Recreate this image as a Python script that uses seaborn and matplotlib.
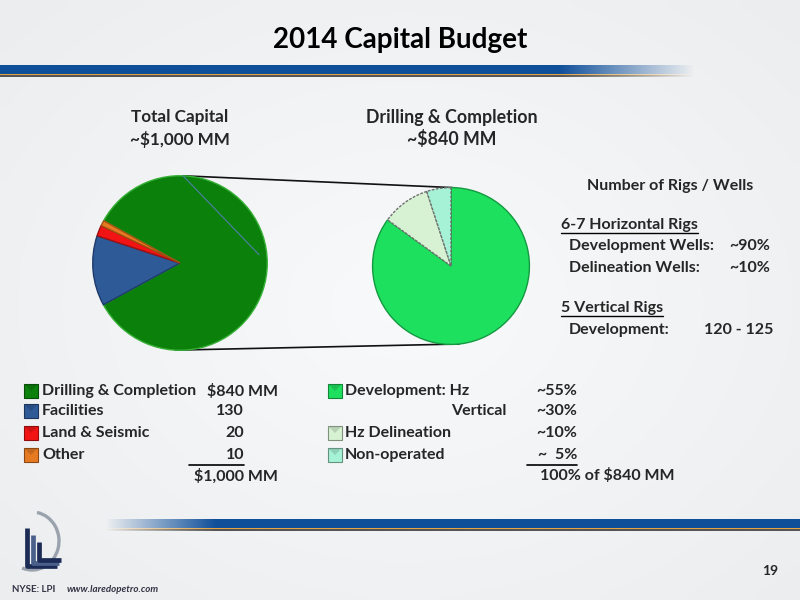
import numpy as np
import matplotlib
matplotlib.use("Agg")
import matplotlib.pyplot as plt
import seaborn as sns
from matplotlib.patches import Rectangle, Polygon, Arc, ConnectionPatch

# ---------------- data ----------------
title = "2014 Capital Budget"
left_title = ["Total Capital", "~$1,000 MM"]
right_title = ["Drilling & Completion", "~$840 MM"]

total_labels = ["Drilling & Completion", "Facilities", "Land & Seismic", "Other"]
total_values = [840, 130, 20, 10]
total_colors = ["#0b800b", "#2e5a98", "#f21414", "#e67a22"]

dc_labels = ["Development", "Hz Delineation", "Non-operated"]
dc_values = [85, 10, 5]
dc_colors = ["#1ee05f", "#d6f2d2", "#a6f2d6"]

dc_legend_labels = ["Development: Hz", "Vertical", "Hz Delineation", "Non-operated"]
dc_legend_values = [55, 30, 10, 5]
dc_legend_colors = ["#1ee05f", None, "#d6f2d2", "#a6f2d6"]

rig_heading = "Number of Rigs / Wells"
hz_heading = "6-7 Horizontal Rigs"
hz_rows = ["Development Wells:", "Delineation Wells:"]
hz_values = ["~90%", "~10%"]
vert_heading = "5 Vertical Rigs"
vert_rows = ["Development:"]
vert_values = ["120 - 125"]

page_number = "19"
footer_ticker = "NYSE: LPI"
footer_url = "www.laredopetro.com"

# ---------------- style ----------------
sns.set_theme(style="white")
plt.rcParams["font.family"] = ["Lato", "DejaVu Sans"]
plt.rcParams["font.weight"] = "bold"

fig = plt.figure(figsize=(8, 6), dpi=100)

# background canvas in pixel coordinates
bg = fig.add_axes([0, 0, 1, 1], zorder=0)
bg.set_xlim(0, 800)
bg.set_ylim(600, 0)
bg.axis("off")

# soft background gradient
yy, xx = np.mgrid[0:60, 0:80]
r = np.sqrt(((xx - 40) / 40.0) ** 2 + ((yy - 30) / 30.0) ** 2)
shade = 0.985 - 0.035 * np.clip(r, 0, 1.4)
img = np.dstack([shade - 0.012, shade - 0.006, shade, np.ones_like(shade)])
bg.imshow(np.clip(img, 0, 1), extent=[0, 800, 600, 0], aspect="auto", zorder=0,
          interpolation="bicubic")


def grad_bar(x0, x1, y0, y1, color, fade_from, fade_to):
    n = 400
    xs = np.linspace(x0, x1, n)
    if fade_from < fade_to:   # fade toward right
        alpha = np.clip((fade_to - xs) / (fade_to - fade_from), 0, 1)
        alpha[xs < fade_from] = 1
    else:                     # fade toward left
        alpha = np.clip((xs - fade_to) / (fade_from - fade_to), 0, 1)
        alpha[xs > fade_from] = 1
    rgb = matplotlib.colors.to_rgb(color)
    arr = np.zeros((1, n, 4))
    arr[0, :, :3] = rgb
    arr[0, :, 3] = alpha
    bg.imshow(arr, extent=[x0, x1, y1, y0], aspect="auto", zorder=1,
              interpolation="bilinear")


# header bar
grad_bar(0, 695, 65, 74, "#0f4f9a", 560, 695)
grad_bar(0, 695, 74, 76, "#e2a445", 560, 695)
grad_bar(0, 695, 76, 77.5, "#555555", 560, 695)
# footer bar
grad_bar(105, 800, 519, 528, "#0f4f9a", 215, 105)
grad_bar(105, 800, 528, 530, "#e2a445", 215, 105)
grad_bar(105, 800, 530, 531.5, "#555555", 215, 105)

# logo
bg.add_patch(Arc((32, 541), 54, 58, theta1=-80, theta2=110, color="#9aa3ad", lw=2.4, zorder=2))
for k, (lx, ly) in enumerate([(27, 528), (33, 535), (39, 542)]):
    bg.plot([lx, lx, lx + 30 - 4 * k], [ly, 566 - 3 * k, 566 - 3 * k],
            color="#1c2b55" if k != 1 else "#4a5f8a", lw=3.4, solid_capstyle="butt", zorder=3)

# title
bg.text(400, 40, title, ha="center", va="center", fontsize=20, fontweight="bold", color="black")

# pie subtitles
bg.text(180, 117, left_title[0], ha="center", va="center", fontsize=12.3, fontweight="bold")
bg.text(180, 139, left_title[1], ha="center", va="center", fontsize=12.3, fontweight="bold")
bg.text(452, 117, right_title[0], ha="center", va="center", fontsize=12.8, fontweight="bold")
bg.text(452, 139, right_title[1], ha="center", va="center", fontsize=12.8, fontweight="bold")

# ---------------- pies ----------------
ax1 = fig.add_axes([(180 - 89) / 800, 1 - (263 + 89) / 600, 178 / 800, 178 / 600], zorder=3)
ax2 = fig.add_axes([(451 - 80) / 800, 1 - (266 + 80) / 600, 160 / 800, 160 / 600], zorder=3)

w1, _ = ax1.pie(total_values, colors=total_colors, startangle=151, counterclock=False,
                wedgeprops=dict(linewidth=1.0, edgecolor="#2a6a2a"))
edge1 = ["#36b036", "#1d3a6a", "#a01010", "#a05010"]
for w, ec in zip(w1, edge1):
    w.set_edgecolor(ec)
w2, _ = ax2.pie(dc_values, colors=dc_colors, startangle=90, counterclock=False,
                wedgeprops=dict(linewidth=1.0, edgecolor="#139a40"))
w2[1].set_edgecolor("#707070")
w2[2].set_edgecolor("#707070")
w2[1].set_linestyle((0, (2, 1)))
w2[2].set_linestyle((0, (2, 1)))
for ax in (ax1, ax2):
    ax.set_xlim(-1.02, 1.02)
    ax.set_ylim(-1.02, 1.02)
    ax.set_aspect("equal")
    ax.axis("off")

# faint reflection line on the total pie
a0, a1 = np.deg2rad(88), np.deg2rad(6)
ax1.plot([np.cos(a0), 0.91 * np.cos(a1)], [np.sin(a0), 0.91 * np.sin(a1)],
         color="#4f7fa8", lw=0.8, zorder=5)

# connector lines between the pies
for (aL, aR) in [(88, 89), (267, 276)]:
    pL = (np.cos(np.deg2rad(aL)), np.sin(np.deg2rad(aL)))
    pR = (np.cos(np.deg2rad(aR)), np.sin(np.deg2rad(aR)))
    con = ConnectionPatch(xyA=pL, coordsA=ax1.transData, xyB=pR, coordsB=ax2.transData,
                          color="#111111", lw=1.2, zorder=2)
    fig.add_artist(con)

# ---------------- rigs / wells panel ----------------
fs = 11.5
texts_to_underline = []
bg.text(670, 186, rig_heading, ha="center", va="center", fontsize=fs)
t = bg.text(561, 225, hz_heading, ha="left", va="center", fontsize=fs)
texts_to_underline.append(t)
for i, (lab, val) in enumerate(zip(hz_rows, hz_values)):
    y = 246 + 22 * i
    bg.text(569, y, lab, ha="left", va="center", fontsize=fs)
    bg.text(770, y, val, ha="right", va="center", fontsize=fs)
t = bg.text(561, 308, vert_heading, ha="left", va="center", fontsize=fs)
texts_to_underline.append(t)
for i, (lab, val) in enumerate(zip(vert_rows, vert_values)):
    y = 330 + 22 * i
    bg.text(569, y, lab, ha="left", va="center", fontsize=fs)
    bg.text(773, y, val, ha="right", va="center", fontsize=fs)


def marker(x, y, color):
    dark = tuple(c * 0.6 for c in matplotlib.colors.to_rgb(color))
    bg.add_patch(Rectangle((x, y - 7), 14, 14, facecolor=color, edgecolor=dark, lw=0.8, zorder=4))
    bg.add_patch(Polygon([[x, y - 7], [x + 7, y], [x + 14, y - 7]], closed=True,
                         facecolor=dark, alpha=0.35, lw=0, zorder=5))


# ---------------- left legend ----------------
rows_y = [391, 411, 433, 455]
for i, (lab, val, col) in enumerate(zip(total_labels, total_values, total_colors)):
    y = rows_y[i]
    marker(24, y, col)
    bg.text(42, y, lab, ha="left", va="center", fontsize=fs)
    if i == 0:
        bg.text(278, y, f"${val} MM", ha="right", va="center", fontsize=fs)
    else:
        bg.text(244, y, f"{val}", ha="right", va="center", fontsize=fs)
bg.plot([189, 244], [465, 465], color="black", lw=1.2)
bg.text(278, 476, f"${sum(total_values):,} MM", ha="right", va="center", fontsize=fs)

# ---------------- right legend ----------------
for i, (lab, val, col) in enumerate(zip(dc_legend_labels, dc_legend_values, dc_legend_colors)):
    y = rows_y[i]
    if col is not None:
        marker(328, y, col)
        bg.text(345, y, lab, ha="left", va="center", fontsize=fs)
    else:
        bg.text(506, y, lab, ha="right", va="center", fontsize=fs)
    txt = f"~{val}%" if val >= 10 else f"~  {val}%"
    bg.text(577, y, txt, ha="right", va="center", fontsize=fs)
bg.plot([527, 577], [465, 465], color="black", lw=1.2)
bg.text(540, 476, f"{sum(dc_legend_values)}% of ${sum(total_values[:1])} MM",
        ha="left", va="center", fontsize=fs)

# ---------------- footer ----------------
bg.text(778, 571, page_number, ha="right", va="center", fontsize=10, fontweight="bold")
bg.text(12, 590, footer_ticker, ha="left", va="center", fontsize=7, fontweight="bold", color="#333344")
bg.text(67, 590, footer_url, ha="left", va="center", fontsize=7, fontweight="bold",
        style="italic", color="#333344")

# underlines for headings
fig.canvas.draw()
renderer = fig.canvas.get_renderer()
inv = bg.transData.inverted()
for t in texts_to_underline:
    bb = t.get_window_extent(renderer)
    (xa, ya), (xb, yb) = inv.transform([(bb.x0, bb.y0), (bb.x1, bb.y1)])
    bg.plot([xa, xb], [ya + 0.5, ya + 0.5], color="black", lw=1.0)

fig.savefig("out.png", dpi=100)
